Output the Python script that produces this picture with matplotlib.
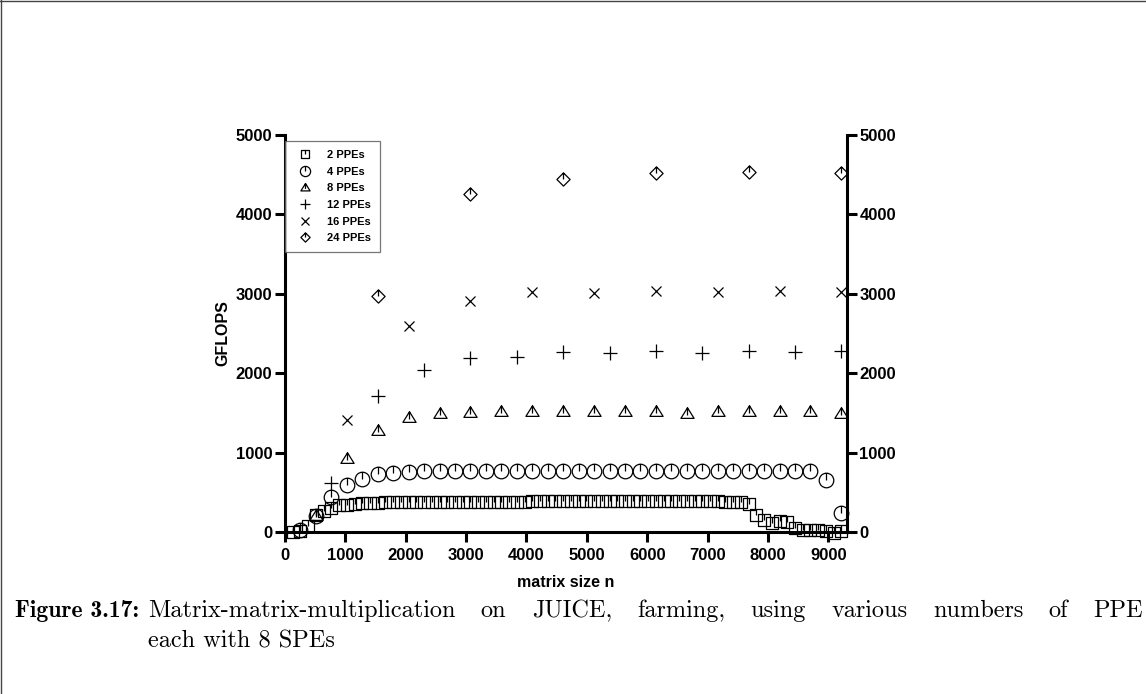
import matplotlib
matplotlib.use("Agg")
import matplotlib.pyplot as plt
from matplotlib.path import Path
from matplotlib.lines import Line2D

# ---- measured performance (GFLOPS) against matrix size n ----
n_2ppe = [128, 256, 384, 512, 640, 768, 896, 1024, 1152, 1280, 1408, 1536, 1664, 1792, 1920,
          2048, 2176, 2304, 2432, 2560, 2688, 2816, 2944, 3072, 3200, 3328, 3456, 3584, 3712,
          3840, 3968, 4096, 4224, 4352, 4480, 4608, 4736, 4864, 4992, 5120, 5248, 5376, 5504,
          5632, 5760, 5888, 6016, 6144, 6272, 6400, 6528, 6656, 6784, 6912, 7040, 7168, 7296,
          7424, 7552, 7680, 7808, 7936, 8064, 8192, 8320, 8448, 8576, 8704, 8832, 8960, 9088, 9216]
gf_2ppe = [5, 15, 80, 210, 265, 300, 335, 345, 355, 362, 366, 370, 372, 374, 375,
           378, 379, 380, 380, 381, 381, 382, 382, 382, 383, 383, 383, 384, 384,
           384, 384, 385, 385, 385, 385, 385, 385, 385, 386, 386, 386, 386, 386,
           386, 386, 386, 386, 386, 386, 386, 386, 386, 386, 385, 385, 385, 384,
           382, 372, 355, 215, 155, 110, 135, 120, 50, 30, 25, 20, 10, -15, 10]

n_4ppe = [256, 512, 768, 1024, 1280, 1536, 1792, 2048, 2304, 2560, 2816, 3072, 3328, 3584,
          3840, 4096, 4352, 4608, 4864, 5120, 5376, 5632, 5888, 6144, 6400, 6656, 6912,
          7168, 7424, 7680, 7936, 8192, 8448, 8704, 8960, 9216]
gf_4ppe = [30, 200, 440, 590, 670, 735, 740, 758, 764, 766, 767, 768, 768, 768,
           768, 769, 769, 769, 769, 769, 769, 769, 769, 769, 769, 769, 769,
           769, 769, 769, 768, 768, 768, 768, 660, 240]

n_8ppe = [512, 1024, 1536, 2048, 2560, 3072, 3584, 4096, 4608, 5120, 5632, 6144, 6656,
          7168, 7680, 8192, 8704, 9216]
gf_8ppe = [215, 930, 1280, 1450, 1495, 1515, 1520, 1525, 1525, 1520, 1525, 1525, 1500,
           1530, 1530, 1525, 1530, 1495]

n_12ppe = [768, 1536, 2304, 3072, 3840, 4608, 5376, 6144, 6912, 7680, 8448, 9216]
gf_12ppe = [620, 1715, 2035, 2190, 2205, 2265, 2255, 2275, 2255, 2285, 2265, 2275]

n_16ppe = [1024, 2048, 3072, 4096, 5120, 6144, 7168, 8192, 9216]
gf_16ppe = [1405, 2590, 2905, 3020, 3010, 3030, 3020, 3030, 3020]

n_24ppe = [1536, 3072, 4608, 6144, 7680, 9216]
gf_24ppe = [2975, 4260, 4450, 4520, 4540, 4525]

labels = ["2 PPEs", "4 PPEs", "8 PPEs", "12 PPEs", "16 PPEs", "24 PPEs"]
x_ticks = [0, 1000, 2000, 3000, 4000, 5000, 6000, 7000, 8000, 9000]
y_ticks = [0, 1000, 2000, 3000, 4000, 5000]

caption_tag = "Figure 3.17:"
caption_line1 = "Matrix-matrix-multiplication on JUICE, farming, using various numbers of PPE"
caption_line2 = "each with 8 SPEs"


def with_stem(outline, stem_bottom):
    """Closed outline plus a short vertical stroke from the top edge downwards."""
    stem = Path([(0, 1), (0, stem_bottom)], [Path.MOVETO, Path.LINETO])
    return Path.make_compound_path(outline, stem)


def polygon(verts):
    codes = [Path.MOVETO] + [Path.LINETO] * (len(verts) - 1) + [Path.CLOSEPOLY]
    return Path(list(verts) + [verts[0]], codes)


square_m = with_stem(polygon([(-1, -1), (1, -1), (1, 1), (-1, 1)]), 0.0)
circle_m = with_stem(Path.unit_circle(), 0.0)
triangle_m = with_stem(polygon([(0, 1), (-1.15, -0.85), (1.15, -0.85)]), -0.35)
diamond_m = with_stem(polygon([(0, 1), (1, 0), (0, -1), (-1, 0)]), 0.0)

plt.rcParams["font.family"] = ["Liberation Sans", "DejaVu Sans"]
plt.rcParams["font.weight"] = "bold"

W, H = 1146, 694
fig = plt.figure(figsize=(W / 100, H / 100), dpi=100)
fig.patch.set_facecolor("white")

ax_l, ax_r, ax_b, ax_t = 285, 847, 532, 135
ax = fig.add_axes([ax_l / W, 1 - ax_b / H, (ax_r - ax_l) / W, (ax_b - ax_t) / H])

style = dict(linestyle="none", mfc="none", mec="black", color="black", mew=0.9, clip_on=False)
series = [
    (n_2ppe, gf_2ppe, square_m, 9.0),
    (n_4ppe, gf_4ppe, circle_m, 10.5),
    (n_8ppe, gf_8ppe, triangle_m, 9.5),
    (n_12ppe, gf_12ppe, "+", 9.5),
    (n_16ppe, gf_16ppe, "x", 7.5),
    (n_24ppe, gf_24ppe, diamond_m, 9.5),
]
handles = []
for (xs, ys, mk, ms), lab in zip(series, labels):
    h, = ax.plot(xs, ys, marker=mk, ms=ms, label=lab, **style)
    handles.append(h)

ax.set_xlim(0, 9310)
ax.set_ylim(0, 5000)
ax.set_xticks(x_ticks)
ax.set_yticks(y_ticks)

ax.spines["top"].set_visible(False)
for side in ("left", "right", "bottom"):
    ax.spines[side].set_linewidth(2.2)
ax.tick_params(axis="both", direction="out", length=7.5, width=2.2, labelsize=12)
ax.tick_params(axis="y", left=True, right=True, labelleft=True, labelright=True, pad=1.5)
ax.tick_params(axis="x", pad=4)
for lab in ax.get_xticklabels() + ax.get_yticklabels():
    lab.set_fontweight("bold")

ax.set_xlabel("matrix size n", fontsize=11.5, fontweight="bold")
ax.set_ylabel("GFLOPS", fontsize=11.5, fontweight="bold")
ax.xaxis.set_label_coords(0.5, -0.108)
ax.yaxis.set_label_coords(-0.098, 0.5)

leg = ax.legend(handles=handles, loc="upper left", bbox_to_anchor=(0.0, 0.985),
                borderaxespad=0, frameon=True, fancybox=False, markerscale=0.7,
                prop={"size": 8, "weight": "bold"}, handlelength=2.05,
                handletextpad=0.95, labelspacing=0.6, borderpad=0.8)
leg.get_frame().set_edgecolor("#555555")
leg.get_frame().set_linewidth(0.9)

# page frame: left and top edges
frame = dict(transform=fig.transFigure, color="#444444", lw=1.0)
fig.add_artist(Line2D([0.5 / W, 0.5 / W], [0, 1], **frame))
fig.add_artist(Line2D([0, 1], [1 - 0.5 / H, 1 - 0.5 / H], **frame))

# caption, first line set justified (word gaps stretched to fill the line)
cap_fs = 17.5
fig.text(15 / W, 1 - 617 / H, caption_tag, family="cmb10", fontsize=17,
         va="baseline", ha="left")
renderer = fig.canvas.get_renderer()
words = caption_line1.split(" ")
word_artists = [fig.text(0, 1 - 617 / H, w, family="cmr10", fontsize=cap_fs,
                         va="baseline", ha="left", fontweight="normal") for w in words]
widths = [t.get_window_extent(renderer).width for t in word_artists]
line_left, line_right = 148, 1143
gap = (line_right - line_left - sum(widths)) / (len(words) - 1)
x = line_left
for t, w in zip(word_artists, widths):
    t.set_x(x / W)
    x += w + gap
fig.text(148 / W, 1 - 647 / H, caption_line2, family="cmr10", fontsize=cap_fs,
         va="baseline", ha="left", fontweight="normal")

fig.savefig("out.png", dpi=100)
